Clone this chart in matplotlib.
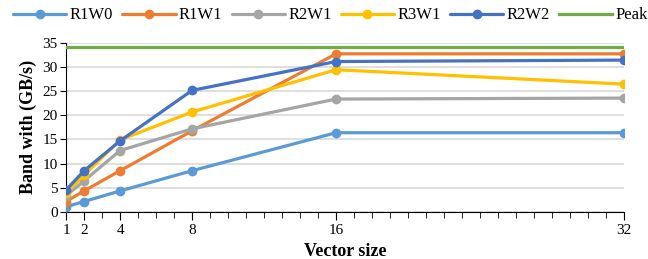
import matplotlib
matplotlib.use("Agg")
import matplotlib.pyplot as plt
from matplotlib.ticker import MultipleLocator

plt.rcParams['font.family'] = ['Liberation Serif', 'DejaVu Serif']

vector_sizes = [1, 2, 4, 8, 16, 32]
series_names = ["R1W0", "R1W1", "R2W1", "R3W1", "R2W2"]
r1w0 = [1.0, 2.1, 4.3, 8.5, 16.4, 16.4]
r1w1 = [2.1, 4.3, 8.5, 16.8, 32.8, 32.8]
r2w1 = [3.3, 6.4, 12.7, 17.2, 23.4, 23.6]
r3w1 = [3.8, 7.6, 14.9, 20.7, 29.5, 26.5]
r2w2 = [4.5, 8.5, 14.7, 25.2, 31.2, 31.5]
peak_x = [1, 32]
peak = [34.2, 34.2]
x_tick_labels = ["1", "2", "4", "8", "16", "32"]

colors = ["#5B9BD5", "#ED7D31", "#A5A5A5", "#FFC000", "#4472C4"]
peak_color = "#70AD47"

fig = plt.figure(figsize=(6.48, 2.59), dpi=100)
ax = fig.add_axes([0.102, 0.183, 0.861, 0.650])

for name, vals, c in zip(series_names, [r1w0, r1w1, r2w1, r3w1, r2w2], colors):
    ax.plot(vector_sizes, vals, color=c, lw=2.3, marker='o', ms=6, label=name,
            solid_capstyle='round', zorder=3)
ax.plot(peak_x, peak, color=peak_color, lw=2.3, label="Peak", zorder=3)

ax.set_xlim(1, 32)
ax.set_ylim(0, 35)
ax.set_xticks(vector_sizes)
ax.set_xticklabels(x_tick_labels)
ax.xaxis.set_minor_locator(MultipleLocator(1))
ax.set_yticks(range(0, 36, 5))
ax.yaxis.grid(True, color="#D9D9D9", lw=1.2)
ax.set_axisbelow(True)
for s in ['top', 'right']:
    ax.spines[s].set_visible(False)
ax.spines['left'].set_color('black')
ax.spines['bottom'].set_color('black')
ax.tick_params(axis='x', which='major', length=6, direction='out', labelsize=11, pad=3)
ax.tick_params(axis='x', which='minor', length=4, direction='out')
ax.tick_params(axis='y', length=4, direction='out', labelsize=11, pad=2)
ax.set_xlabel("Vector size", fontsize=13, fontweight='bold', labelpad=4)
ax.set_ylabel("Band with (GB/s)", fontsize=13, fontweight='bold', labelpad=4)

ax.legend(loc='center', bbox_to_anchor=(0.474, 1.165), ncol=6, frameon=False,
          fontsize=12, handlelength=3.2, columnspacing=0.55, handletextpad=0.2,
          borderpad=0.1, borderaxespad=0)

fig.savefig("out.png", dpi=100)
